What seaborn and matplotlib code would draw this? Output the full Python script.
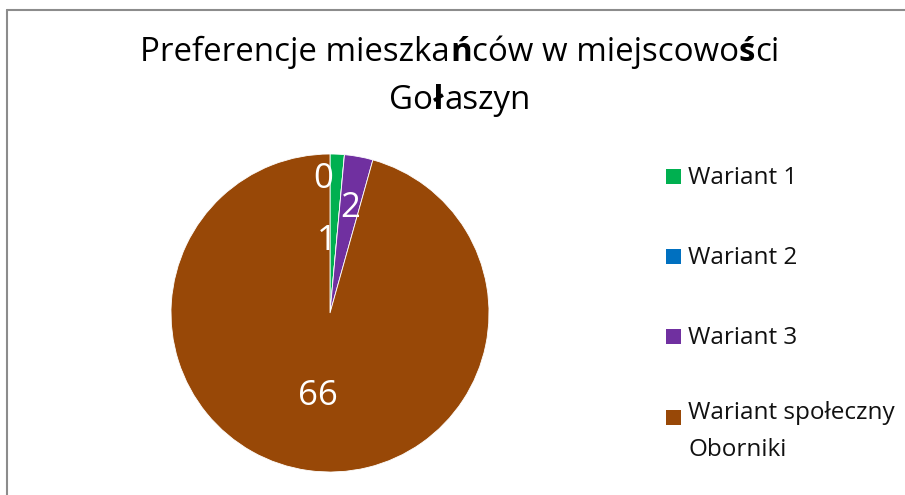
import matplotlib
matplotlib.use("Agg")
import matplotlib.pyplot as plt
import seaborn as sns
import numpy as np
from matplotlib.lines import Line2D
from matplotlib.patches import Rectangle

# Poll results: votes per variant
categories = ["Wariant 1", "Wariant 2", "Wariant 3", "Wariant społeczny\nOborniki"]
votes = [1, 0, 2, 66]
colors = ["#00B050", "#0070C0", "#7030A0", "#984807"]
# Title, split into runs (some glyphs come out heavier)
title_runs = [
    [("Preferencje mieszka", "normal"), ("ń", "bold"), ("ców w miejscowo", "normal"),
     ("ś", "bold"), ("ci", "normal")],
    [("Go", "normal"), ("ł", "bold"), ("aszyn", "normal")],
]

sns.set_theme(style="white")
plt.rcParams["font.family"] = ["Open Sans", "DejaVu Sans"]

W, H = 905, 495
fig = plt.figure(figsize=(W / 100, H / 100), dpi=100)
fig.patch.set_facecolor("white")


def fx(px):
    return px / W


def fy(py):
    return 1 - py / H


# Pie axes (pixel-based placement)
cx, cy, r = 330, 313, 159
ax = fig.add_axes([fx(cx - r), fy(cy + r), 2 * r / W, 2 * r / H])
palette = sns.color_palette(colors)
wedges, _ = ax.pie(votes, colors=palette, startangle=90, counterclock=False,
                   radius=1.0, wedgeprops=dict(edgecolor="white", linewidth=0.6))
ax.set_xlim(-1, 1)
ax.set_ylim(-1, 1)
ax.set_aspect("equal")
ax.axis("off")

# Data labels: radial distance and a small sideways nudge per slice
label_dist = [0.48, 0.87, 0.70, 0.50]
label_nudge = [-0.045, -0.123, 0.0, -0.01]
for w, v, d, n in zip(wedges, votes, label_dist, label_nudge):
    ang = np.deg2rad((w.theta1 + w.theta2) / 2)
    ax.text(d * np.cos(ang) + n, d * np.sin(ang), f"{v}", color="white",
            fontsize=25, ha="center", va="center_baseline")

# Title: lay out the runs of each line, then centre the line
renderer = fig.canvas.get_renderer()
title_center = 460
title_baselines = [61, 109]
for runs, base in zip(title_runs, title_baselines):
    pieces = []
    for txt, wt in runs:
        t = fig.text(0, fy(base), txt, ha="left", va="baseline", fontsize=23.8,
                     fontweight=wt, color="black")
        pieces.append(t)
    widths = [p.get_window_extent(renderer).width for p in pieces]
    x = title_center - sum(widths) / 2
    for p, wd in zip(pieces, widths):
        p.set_x(fx(x))
        x += wd

# Legend
rows_y = [176.5, 256.5, 336.5, 417.5]
line_gap = 31
for lab, col, ry in zip(categories, colors, rows_y):
    fig.add_artist(Rectangle((fx(666), fy(ry + 7.5)), 15 / W, 15 / H,
                             transform=fig.transFigure, facecolor=col,
                             edgecolor="none"))
    n_lines = lab.count("\n") + 1
    fig.text(fx(688), fy(ry + 7.5 + (n_lines - 1) * line_gap), lab, ha="left",
             va="baseline", fontsize=17.5, color="#111111", linespacing=1.7)

# Chart frame (top and left edges)
frame = "#8c8c8c"
fig.add_artist(Line2D([fx(6.5), fx(905)], [fy(9.5), fy(9.5)],
                      transform=fig.transFigure, color=frame, linewidth=1.5))
fig.add_artist(Line2D([fx(6.5), fx(6.5)], [fy(9.5), fy(495)],
                      transform=fig.transFigure, color=frame, linewidth=1.5))

fig.savefig("out.png", dpi=100, facecolor="white")
